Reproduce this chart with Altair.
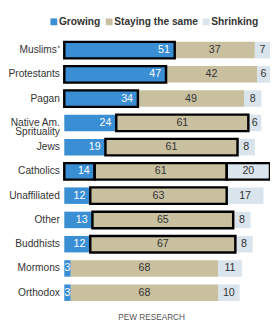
import altair as alt
import pandas as pd

groups = ["Muslims⁺", "Protestants", "Pagan", "Native Am.|Sprituality", "Jews",
          "Catholics", "Unaffiliated", "Other", "Buddhists", "Mormons", "Orthodox"]
growing = [51, 47, 34, 24, 19, 14, 12, 13, 12, 3, 3]
staying = [37, 42, 49, 61, 61, 61, 63, 65, 67, 68, 68]
shrinking = [7, 6, 8, 6, 8, 20, 17, 8, 8, 11, 10]
hl_growing = [1, 1, 1, 0, 0, 1, 0, 0, 0, 0, 0]
hl_staying = [0, 0, 0, 1, 1, 1, 1, 1, 1, 0, 0]
hl_shrinking = [0, 0, 0, 0, 0, 1, 0, 0, 0, 0, 0]
series = ["Growing", "Staying the same", "Shrinking"]
colors = ["#3a8ed4", "#c9c0a0", "#dae4ec"]

F = "Liberation Sans, Arial, sans-serif"

rows = []
for i, g in enumerate(groups):
    vals = [growing[i], staying[i], shrinking[i]]
    hls = [hl_growing[i], hl_staying[i], hl_shrinking[i]]
    start = 0
    for j, s in enumerate(series):
        rows.append({"group": g, "series": s, "value": vals[j], "start": start,
                     "end": start + vals[j], "hl": hls[j], "ord": j})
        start += vals[j]
df = pd.DataFrame(rows)

y = alt.Y("group:N", sort=groups,
          scale=alt.Scale(paddingInner=0.32, paddingOuter=0.16),
          axis=alt.Axis(title=None, domain=False, ticks=False, grid=False,
                        labelExpr="split(datum.label, '|')", labelFontSize=10.5,
                        labelFont=F, labelColor="#333", labelPadding=5,
                        labelLineHeight=10))
xs = alt.Scale(domain=[0, 95], nice=False)

base = alt.Chart(df)

fills = base.mark_bar().encode(
    x=alt.X("start:Q", scale=xs, axis=None),
    x2="end:Q",
    y=y,
    color=alt.Color("series:N", scale=alt.Scale(domain=series, range=colors),
                    legend=alt.Legend(title=None, orient="none", legendX=-16, legendY=-22,
                                      direction="horizontal", symbolType="square",
                                      symbolSize=49, symbolStrokeWidth=0,
                                      labelFontWeight="bold", labelFontSize=10.5,
                                      labelFont=F, labelColor="#333",
                                      columnPadding=3, labelOffset=0)),
)

outlines = base.mark_bar(fillOpacity=0, stroke="black", strokeWidth=2.5).encode(
    x=alt.X("start:Q", scale=xs, axis=None),
    x2="end:Q",
    y=y,
).transform_filter("datum.hl == 1")

txt_g_big = base.mark_text(align="right", dx=-5, color="white", font=F, fontSize=11).encode(
    x=alt.X("end:Q", scale=xs, axis=None),
    y=y,
    text="value:Q",
).transform_filter("datum.series == 'Growing' && datum.value >= 10")

txt_g_small = base.mark_text(align="center", color="white", font=F, fontSize=11).transform_calculate(
    mid="(datum.start + datum.end) / 2"
).encode(
    x=alt.X("mid:Q", scale=xs, axis=None),
    y=y,
    text="value:Q",
).transform_filter("datum.series == 'Growing' && datum.value < 10")

txt_other = base.mark_text(align="center", color="#333", font=F, fontSize=11).transform_calculate(
    mid="(datum.start + datum.end) / 2"
).encode(
    x=alt.X("mid:Q", scale=xs, axis=None),
    y=y,
    text="value:Q",
).transform_filter("datum.series != 'Growing'")

chart = alt.layer(fills, outlines, txt_g_big, txt_g_small, txt_other).properties(
    width=212, height=275,
    title=alt.TitleParams("PEW RESEARCH", orient="bottom", anchor="middle",
                          fontSize=8.5, font=F, color="#555", fontWeight="normal",
                          offset=9, dx=-16),
    autosize=alt.AutoSizeParams(type="none"),
    padding={"left": 58, "top": 26, "right": 0, "bottom": 19},
).configure_view(stroke=None)

chart.save("out.html", embed_options={"renderer": "svg", "actions": False})
